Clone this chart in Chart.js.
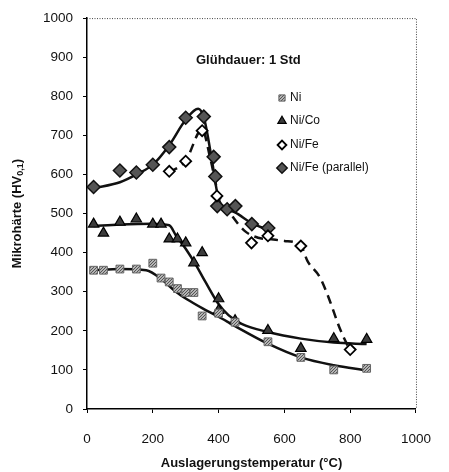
<!DOCTYPE html>
<html lang="de">
<head>
<meta charset="UTF-8" />
<title>Mikrohärte vs. Auslagerungstemperatur</title>
<script src="https://cdn.jsdelivr.net/npm/chart.js"></script>
<style>
  html, body { margin: 0; padding: 0; background: #fff; }
  #wrap { position: relative; width: 449px; height: 472px; }
</style>
</head>
<body>
<div id="wrap"><canvas id="chart" width="449" height="472"></canvas></div>
<script>
  // axis ticks
  const xTicks = [0, 200, 400, 600, 800, 1000];
  const yTicks = [0, 100, 200, 300, 400, 500, 600, 700, 800, 900, 1000];

  // measured points (temperature in °C, hardness HV0,1)
  const niT = [20, 50, 100, 150, 200, 225, 250, 275, 300, 325, 350, 400, 450, 550, 650, 750, 850];
  const niHV = [355, 355, 358, 358, 373, 335, 325, 308, 298, 298, 238, 245, 222, 172, 132, 100, 104];

  const coT = [20, 50, 100, 150, 200, 225, 250, 275, 300, 325, 350, 400, 400, 450, 550, 650, 750, 850];
  const coHV = [473, 450, 478, 486, 473, 473, 435, 435, 425, 374, 400, 282, 252, 226, 201, 155, 180, 178];

  const feT = [250, 300, 350, 395, 500, 550, 650, 800];
  const feHV = [608, 634, 712, 545, 425, 443, 417, 152];

  const parT = [20, 100, 150, 200, 250, 300, 355, 385, 390, 396, 426, 451, 501, 551];
  const parHV = [568, 610, 605, 625, 670, 745, 748, 645, 595, 519, 511, 519, 473, 463];

  // trend curves
  const niFitT = [20, 100, 180, 232, 270, 305, 350, 400, 450, 550, 650, 750, 850];
  const niFitHV = [355, 358, 355, 328, 300, 280, 258, 236, 212, 167, 132, 112, 99];

  const coFitT = [20, 100, 200, 250, 271, 300, 330, 360, 397, 430, 470, 550, 650, 750, 850];
  const coFitHV = [468, 472, 474, 470, 443, 410, 370, 325, 272, 240, 218, 197, 180, 170, 166];

  const feFitT = [250, 300, 350, 375, 400, 440, 480, 520, 560, 600, 650, 670, 708, 738, 767, 796];
  const feFitHV = [605, 635, 715, 640, 548, 495, 455, 438, 434, 430, 418, 379, 337, 277, 209, 155];

  const parFitT = [20, 100, 155, 200, 250, 300, 338, 356, 380, 397, 410, 450, 500, 550];
  const parFitHV = [565, 580, 602, 625, 675, 740, 768, 743, 635, 548, 520, 503, 476, 458];

  const seriesNames = ['Ni', 'Ni/Co', 'Ni/Fe', 'Ni/Fe (parallel)'];
  const titleText = 'Glühdauer: 1 Std';

  const FONT = '"Liberation Sans", Arial, sans-serif';

  function pts(xs, ys) {
    return xs.map((x, i) => ({ x: x, y: ys[i] }));
  }

  // speckled grey fill for the Ni squares
  function speckle() {
    const c = document.createElement('canvas');
    c.width = 3; c.height = 3;
    const g = c.getContext('2d');
    g.fillStyle = '#b4b4b4'; g.fillRect(0, 0, 3, 3);
    g.fillStyle = '#555';
    g.fillRect(0, 0, 1, 1); g.fillRect(2, 1, 1, 1); g.fillRect(1, 2, 1, 1);
    return document.getElementById('chart').getContext('2d').createPattern(c, 'repeat');
  }
  const niFill = speckle();

  const markerStyles = [
    { pointStyle: 'rect', radius: 5.5, bg: niFill, border: '#666', bw: 1 },
    { pointStyle: 'triangle', radius: 6, bg: '#3c3c3c', border: '#000', bw: 1.2 },
    { pointStyle: 'rectRot', radius: 5.5, bg: '#fff', border: '#000', bw: 1.8 },
    { pointStyle: 'rectRot', radius: 6.5, bg: '#555', border: '#111', bw: 1.5 }
  ];

  function markerSet(name, data, m) {
    return {
      label: name, data: data, showLine: false, order: 1,
      pointStyle: m.pointStyle, pointRadius: m.radius,
      pointBackgroundColor: m.bg, pointBorderColor: m.border, pointBorderWidth: m.bw
    };
  }

  function lineSet(data, dashed) {
    return {
      label: '', data: data, showLine: true, order: 2,
      pointRadius: 0, borderColor: '#111', borderWidth: 2.5,
      borderDash: dashed ? [9, 6] : [],
      cubicInterpolationMode: 'monotone', fill: false
    };
  }

  const decor = {
    id: 'decor',
    afterDraw(chart) {
      const ctx = chart.ctx;
      const a = chart.chartArea;
      ctx.save();

      // dotted top and right frame
      ctx.strokeStyle = '#444';
      ctx.lineWidth = 1;
      ctx.setLineDash([1, 1.5]);
      ctx.beginPath();
      ctx.moveTo(a.left, a.top + 0.5);
      ctx.lineTo(a.right + 0.5, a.top + 0.5);
      ctx.lineTo(a.right + 0.5, a.bottom);
      ctx.stroke();
      ctx.setLineDash([]);

      // title inside plot
      ctx.fillStyle = '#111';
      ctx.font = 'bold 13px ' + FONT;
      ctx.textAlign = 'left';
      ctx.textBaseline = 'middle';
      ctx.fillText(titleText, 196, 60);

      // legend
      const ly = [98, 121, 145, 168];
      ctx.font = '12px ' + FONT;
      seriesNames.forEach((name, i) => {
        const m = markerStyles[i];
        ctx.fillStyle = m.bg;
        ctx.strokeStyle = m.border;
        ctx.lineWidth = m.bw;
        Chart.helpers.drawPoint(ctx, { pointStyle: m.pointStyle, radius: m.radius * 0.8, borderWidth: m.bw, rotation: 0 }, 282, ly[i]);
        ctx.fillStyle = '#111';
        ctx.fillText(name, 290, ly[i]);
      });

      // x axis title
      ctx.font = 'bold 13px ' + FONT;
      ctx.textAlign = 'center';
      ctx.fillText('Auslagerungstemperatur (°C)', (a.left + a.right) / 2, 463);

      // y axis title with subscript
      ctx.translate(17, (a.top + a.bottom) / 2);
      ctx.rotate(-Math.PI / 2);
      const main = 'Mikrohärte (HV';
      const sub = '0,1';
      const end = ')';
      ctx.font = 'bold 13px ' + FONT;
      const w1 = ctx.measureText(main).width;
      const w3 = ctx.measureText(end).width;
      ctx.font = 'bold 9px ' + FONT;
      const w2 = ctx.measureText(sub).width;
      let x = -(w1 + w2 + w3) / 2;
      ctx.textAlign = 'left';
      ctx.font = 'bold 13px ' + FONT;
      ctx.fillText(main, x, 0);
      ctx.font = 'bold 9px ' + FONT;
      ctx.fillText(sub, x + w1, 4);
      ctx.font = 'bold 13px ' + FONT;
      ctx.fillText(end, x + w1 + w2, 0);

      ctx.restore();
    }
  };

  new Chart(document.getElementById('chart'), {
    type: 'scatter',
    data: {
      datasets: [
        markerSet(seriesNames[0], pts(niT, niHV), markerStyles[0]),
        markerSet(seriesNames[1], pts(coT, coHV), markerStyles[1]),
        markerSet(seriesNames[2], pts(feT, feHV), markerStyles[2]),
        markerSet(seriesNames[3], pts(parT, parHV), markerStyles[3]),
        lineSet(pts(niFitT, niFitHV), false),
        lineSet(pts(coFitT, coFitHV), false),
        lineSet(pts(feFitT, feFitHV), true),
        lineSet(pts(parFitT, parFitHV), false)
      ]
    },
    options: {
      responsive: false,
      animation: false,
      layout: { padding: { top: 16, right: 19, left: 0, bottom: 0 } },
      plugins: {
        legend: { display: false },
        tooltip: { enabled: false }
      },
      scales: {
        x: {
          type: 'linear',
          min: 0, max: 1000,
          afterFit(s) { s.height = 63; },
          afterBuildTicks(s) { s.ticks = xTicks.map(v => ({ value: v })); },
          ticks: { color: '#111', font: { family: FONT, size: 13.5 }, padding: 18, maxRotation: 0, callback: v => String(v) },
          grid: { drawOnChartArea: false, drawTicks: true, tickLength: 4, color: '#000' },
          border: { display: true, color: '#000', width: 1.5 }
        },
        y: {
          type: 'linear',
          min: 0, max: 1000,
          afterFit(s) { s.width = 87; },
          afterBuildTicks(s) { s.ticks = yTicks.map(v => ({ value: v })); },
          ticks: { color: '#111', font: { family: FONT, size: 13.5 }, padding: 10, callback: v => String(v) },
          grid: { drawOnChartArea: false, drawTicks: true, tickLength: 4, color: '#000' },
          border: { display: true, color: '#000', width: 1.5 }
        }
      }
    },
    plugins: [decor]
  });
</script>
</body>
</html>
